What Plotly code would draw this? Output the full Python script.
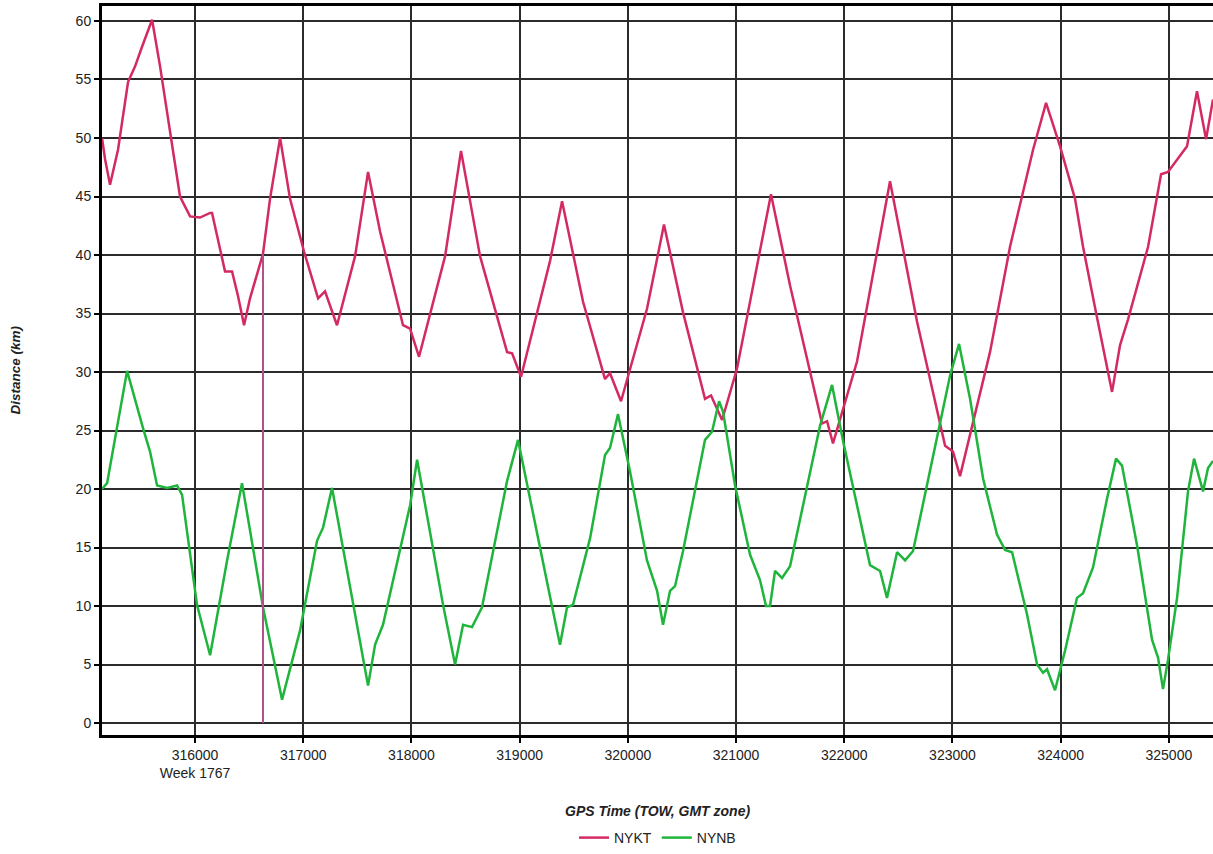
import plotly.graph_objects as go

# ---------------- data ----------------
nykt_time = [315140, 315168, 315214, 315288, 315381, 315445, 315510, 315603, 315677, 315769,
             315861, 315954, 316046, 316139, 316157, 316277, 316342, 316397, 316453, 316508,
             316628, 316693, 316786, 316878, 317007, 317137, 317201, 317312, 317479, 317599,
             317710, 317922, 317987, 318070, 318311, 318458, 318634, 318884, 318930, 319013,
             319281, 319392, 319586, 319789, 319835, 319937, 320177, 320334, 320510, 320713,
             320769, 320871, 321009, 321323, 321499, 321795, 321841, 321896, 322118, 322423,
             322673, 322932, 323005, 323070, 323347, 323532, 323643, 323745, 323865, 323994,
             324133, 324207, 324318, 324475, 324549, 324623, 324808, 324928, 324992, 325168,
             325260, 325344, 325408]
nykt_km = [50.0, 48.2, 46.0, 49.0, 54.8, 56.1, 57.8, 60.1, 56.1, 50.5,
           45.0, 43.3, 43.2, 43.6, 43.6, 38.6, 38.6, 36.5, 34.0, 36.3,
           40.1, 44.8, 50.0, 44.8, 40.3, 36.3, 36.9, 34.0, 39.9, 47.1,
           42.0, 34.0, 33.7, 31.3, 39.9, 48.9, 39.9, 31.7, 31.6, 29.6,
           39.5, 44.6, 36.0, 29.4, 29.9, 27.5, 35.4, 42.6, 35.1, 27.7,
           28.0, 25.9, 30.3, 45.2, 37.4, 25.6, 25.8, 23.9, 30.9, 46.3,
           34.3, 23.7, 23.2, 21.1, 31.7, 40.7, 45.0, 49.0, 53.0, 49.3,
           44.8, 40.7, 35.5, 28.3, 32.3, 34.5, 40.7, 46.9, 47.1, 49.3,
           54.0, 49.9, 53.3]

nynb_time = [315140, 315187, 315372, 315464, 315519, 315584, 315649, 315741, 315834, 315880,
             316018, 316139, 316296, 316434, 316628, 316804, 316970, 317128, 317183, 317266,
             317460, 317599, 317664, 317737, 317987, 318052, 318292, 318403, 318477, 318560,
             318652, 318884, 318985, 319124, 319281, 319373, 319438, 319493, 319651, 319789,
             319835, 319909, 320020, 320177, 320270, 320325, 320390, 320436, 320510, 320713,
             320778, 320843, 320880, 320991, 321129, 321222, 321277, 321314, 321360, 321425,
             321499, 321776, 321887, 321989, 322238, 322331, 322395, 322488, 322562, 322636,
             322858, 322978, 323061, 323163, 323283, 323412, 323486, 323551, 323689, 323782,
             323837, 323874, 323948, 324041, 324151, 324207, 324299, 324429, 324512, 324567,
             324706, 324845, 324900, 324946, 324992, 325076, 325177, 325233, 325316, 325362,
             325408]
nynb_km = [20.0, 20.5, 30.1, 26.9, 25.2, 23.2, 20.3, 20.1, 20.3, 19.5,
           10.1, 5.8, 13.9, 20.5, 9.9, 2.0, 7.9, 15.6, 16.7, 20.1,
           10.1, 3.2, 6.7, 8.4, 18.6, 22.5, 10.1, 5.0, 8.4, 8.2,
           9.9, 20.7, 24.2, 17.8, 10.8, 6.7, 9.9, 10.1, 15.8, 22.9,
           23.5, 26.4, 21.5, 13.9, 11.3, 8.4, 11.3, 11.7, 14.7, 24.2,
           24.9, 27.5, 26.6, 20.3, 14.4, 12.2, 10.0, 10.0, 13.0, 12.4,
           13.4, 25.4, 28.9, 24.1, 13.5, 13.0, 10.7, 14.6, 13.9, 14.7,
           24.6, 29.7, 32.4, 27.7, 20.9, 16.1, 14.8, 14.6, 9.3, 5.0,
           4.3, 4.6, 2.8, 6.2, 10.7, 11.1, 13.3, 19.2, 22.6, 22.0,
           15.2, 7.1, 5.6, 2.9, 5.4, 10.7, 19.8, 22.6, 19.8, 21.8,
           22.4]

marker_time = [316628, 316628]
marker_km = [0, 40.1]

x_tick_vals = [316000, 317000, 318000, 319000, 320000, 321000, 322000, 323000, 324000, 325000]
x_tick_text = ["316000<br>Week 1767", "317000", "318000", "319000", "320000",
               "321000", "322000", "323000", "324000", "325000"]
y_tick_vals = [0, 5, 10, 15, 20, 25, 30, 35, 40, 45, 50, 55, 60]

series_names = ["NYKT", "NYNB"]
x_title = "GPS Time (TOW, GMT zone)"
y_title = "Distance (km)"

# ---------------- figure ----------------
FONT = "Liberation Sans, Arial, sans-serif"
PINK = "#d42a62"
GREEN = "#1fb43c"

fig = go.Figure()
fig.add_trace(go.Scatter(x=nykt_time, y=nykt_km, mode="lines", name=series_names[0],
                         line=dict(color=PINK, width=2.5)))
fig.add_trace(go.Scatter(x=nynb_time, y=nynb_km, mode="lines", name=series_names[1],
                         line=dict(color=GREEN, width=2.5)))
fig.add_trace(go.Scatter(x=marker_time, y=marker_km, mode="lines", showlegend=False,
                         line=dict(color="#b4508c", width=2), hoverinfo="skip"))

fig.update_layout(
    width=1213, height=854,
    margin=dict(l=102, r=0, t=6, b=116),
    paper_bgcolor="white", plot_bgcolor="white",
    font=dict(family=FONT, size=14, color="#222222"),
    showlegend=True,
    legend=dict(orientation="h", x=0.5, xanchor="center", y=-0.142, yanchor="middle",
                font=dict(family=FONT, size=14, color="#222222"), itemwidth=30,
                bgcolor="rgba(0,0,0,0)"),
    xaxis=dict(range=[315140, 325408], tickvals=x_tick_vals, ticktext=x_tick_text,
               showgrid=True, gridcolor="#2b2b2b", gridwidth=1.5,
               showline=True, linecolor="black", linewidth=3, mirror=True,
               ticks="outside", ticklen=5, tickcolor="black", tickwidth=1.5,
               zeroline=False, tickfont=dict(family=FONT, size=14, color="#222222")),
    yaxis=dict(range=[-1.02, 61.28], tickvals=y_tick_vals,
               showgrid=True, gridcolor="#2b2b2b", gridwidth=1.5,
               showline=True, linecolor="black", linewidth=3, mirror=False,
               ticks="outside", ticklen=5, tickcolor="black", tickwidth=1.5,
               zeroline=False, tickfont=dict(family=FONT, size=14, color="#222222")),
    annotations=[
        dict(text="<b><i>" + x_title + "</i></b>", xref="paper", yref="paper",
             x=0.5, y=-0.104, xanchor="center", yanchor="middle", showarrow=False,
             font=dict(family=FONT, size=14, color="#222222")),
        dict(text="<b><i>" + y_title + "</i></b>", xref="paper", yref="paper",
             x=-0.0783, y=0.5, xanchor="center", yanchor="middle", showarrow=False,
             textangle=-90, font=dict(family=FONT, size=13.5, color="#222222")),
    ],
)

fig.write_html("out.html", config={"displayModeBar": False},
               post_script="document.body.style.margin='0';document.body.style.overflow='hidden';")
